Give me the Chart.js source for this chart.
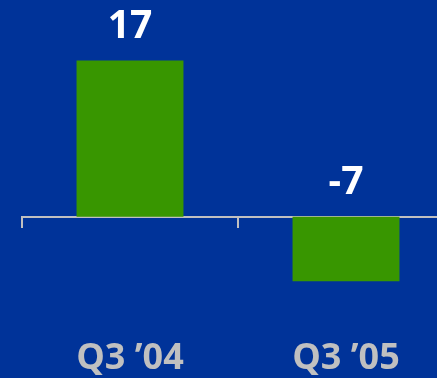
<!DOCTYPE html>
<html>
<head>
<meta charset="utf-8">
<script src="https://cdn.jsdelivr.net/npm/chart.js@4/dist/chart.umd.min.js"></script>
<style>
    html, body { margin: 0; padding: 0; background: #003399; overflow: hidden; }
    #wrap { position: absolute; left: 0; top: 0; width: 460px; height: 378px; }
</style>
</head>
<body>
<div id="wrap"><canvas id="q3"></canvas></div>
<script>
const categories = ["Q3 \u201904", "Q3 \u201905"];
const values = [17, -7];
const valueLabels = ["17", "-7"];

// 柱顶数值
const valueLabelPlugin = {
    id: 'valueLabels',
    afterDatasetsDraw(chart) {
        const ctx = chart.ctx;
        const yScale = chart.scales.y;
        const meta = chart.getDatasetMeta(0);
        ctx.save();
        ctx.fillStyle = '#ffffff';
        ctx.font = 'bold 39px "Open Sans"';
        ctx.textAlign = 'center';
        ctx.textBaseline = 'alphabetic';
        meta.data.forEach((bar, i) => {
            let y = yScale.getPixelForValue(Math.max(values[i], 0)) - 23;
            ctx.fillText(valueLabels[i], bar.x, y);
        });
        ctx.restore();
    }
};

new Chart(document.getElementById("q3"), {
    type: 'bar',
    data: {
        labels: categories,
        datasets: [{
            data: values,
            backgroundColor: "#389600",
            borderWidth: 0,
            categoryPercentage: 1,
            barPercentage: 0.495
        }]
    },
    options: {
        responsive: true,
        maintainAspectRatio: false,
        animation: false,
        layout: { padding: { left: 22, right: 6, top: 33, bottom: 0 } },
        plugins: { legend: { display: false }, tooltip: { enabled: false } },
        scales: {
            x: {
                type: 'category',
                position: { y: 0 },
                offset: true,
                grid: {
                    display: true,
                    offset: true,
                    drawOnChartArea: false,
                    drawTicks: true,
                    tickLength: 10,
                    color: '#c0c0c0',
                    lineWidth: 2
                },
                border: { display: true, color: '#c0c0c0', width: 2 },
                ticks: { display: false }
            },
            x2: {
                type: 'category',
                labels: categories,
                position: 'bottom',
                offset: true,
                grid: { display: false, drawTicks: false },
                border: { display: false },
                ticks: {
                    color: '#c0c0c0',
                    padding: 0,
                    font: { family: '"Open Sans"', size: 36, weight: 'bold', lineHeight: 38 / 36 }
                }
            },
            y: {
                display: false,
                min: -13.4,
                max: 20
            }
        }
    },
    plugins: [valueLabelPlugin]
});
</script>
</body>
</html>
